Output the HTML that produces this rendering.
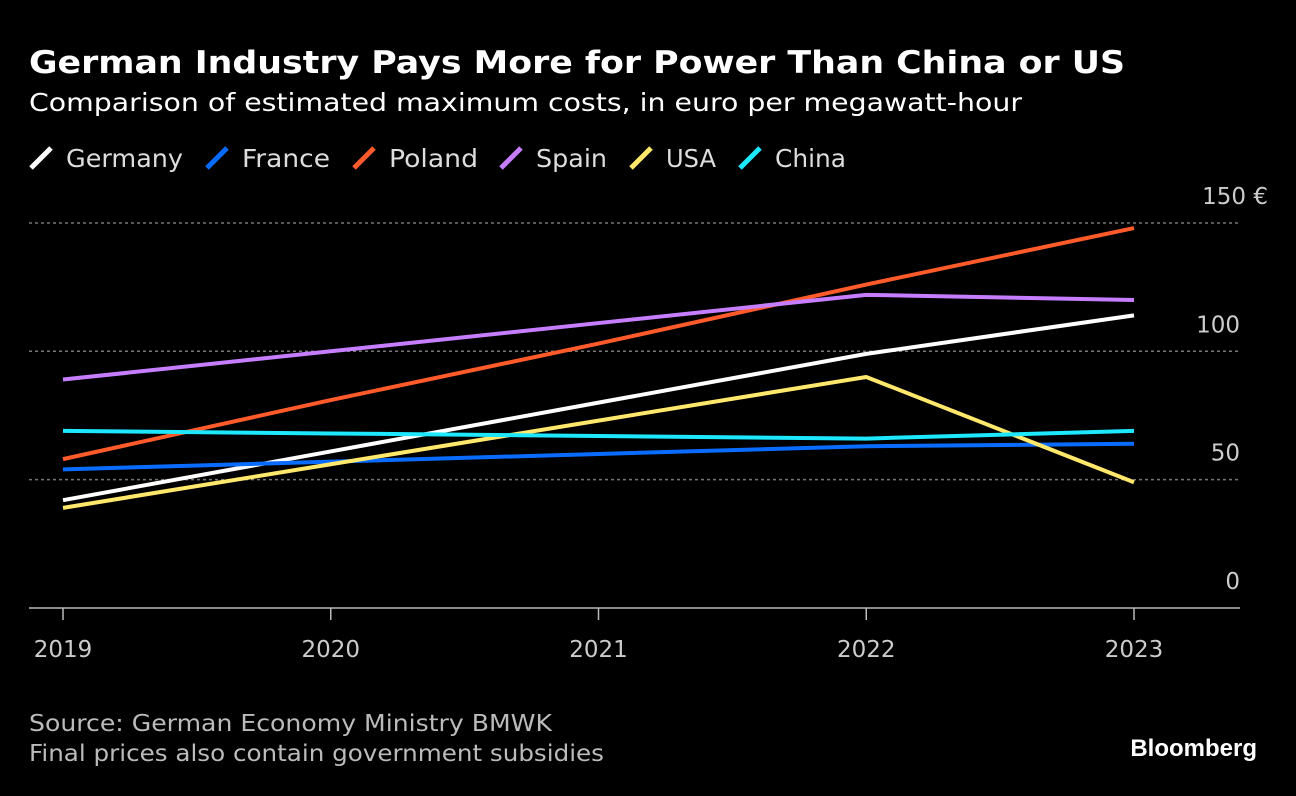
<!DOCTYPE html>
<html><head><meta charset="utf-8"><style>
body{margin:0;background:#000;width:1296px;height:792px;overflow:hidden;font-family:"DejaVu Sans","Liberation Sans",sans-serif;color:#fff}
</style></head><body>
<svg width="1296" height="792" xmlns="http://www.w3.org/2000/svg" font-family="DejaVu Sans, Liberation Sans, sans-serif">
<text x="29" y="73" font-size="31" font-weight="bold" fill="#fff" textLength="1096" lengthAdjust="spacingAndGlyphs">German Industry Pays More for Power Than China or US</text>
<text x="29" y="111" font-size="25" fill="#fff" textLength="993" lengthAdjust="spacingAndGlyphs">Comparison of estimated maximum costs, in euro per megawatt-hour</text>
<g id="legend"></g>
<g id="grid"></g>
<g id="series"></g>
<g id="xaxis"></g>
<text x="29" y="731" font-size="23" fill="#bbb" textLength="523" lengthAdjust="spacingAndGlyphs">Source: German Economy Ministry BMWK</text>
<text x="29" y="761" font-size="23" fill="#bbb" textLength="575" lengthAdjust="spacingAndGlyphs">Final prices also contain government subsidies</text>
<text x="1257" y="756" font-size="24" font-weight="bold" fill="#fff" text-anchor="end" font-family="Liberation Sans, sans-serif">Bloomberg</text>
</svg>
<script>
const years=[2019,2020,2021,2022,2023];
const seriesNames=["Germany","France","Poland","Spain","USA","China"];
const seriesColors=["#ffffff","#0a6cff","#ff5a2a","#c77dff","#ffe86b","#1ee8ff"];
const germany=[42,61,80,99,114];
const france=[54,57,60,63,64];
const poland=[58,81,103,126,148];
const spain=[89,100,111,122,120];
const usa=[39,56,73,90,49];
const china=[69,68,67,66,69];
const yTicks=[0,50,100,150];
const yTickLabels=["0","50","100","150 €"];
const allSeries=[germany,france,poland,spain,usa,china];
const NS="http://www.w3.org/2000/svg";
const xS=y=>63+(y-2019)*267.75;
const yS=v=>608-v*2.567;
function mk(tag,attrs,parent){const e=document.createElementNS(NS,tag);for(const k in attrs)e.setAttribute(k,attrs[k]);document.getElementById(parent).appendChild(e);return e;}
yTicks.forEach((t,i)=>{
 if(t>0){const l=mk("line",{x1:29,x2:1240,y1:yS(t),y2:yS(t),stroke:"#777","stroke-width":1.5,"stroke-dasharray":"3,3"},"grid");
 
 }
 const tx=mk("text",{x:t===150?1268:1240,y:yS(t)-19,"font-size":23,fill:"#ccc","text-anchor":"end"},"grid");
 tx.textContent=yTickLabels[i];
 
 
});
const ax=mk("line",{x1:29,x2:1240,y1:608,y2:608,stroke:"#bbb","stroke-width":1.5},"xaxis");


years.forEach(y=>{
 const tk=mk("line",{x1:xS(y),x2:xS(y),y1:608,y2:620,stroke:"#bbb","stroke-width":1.5},"xaxis");
 
 
 const t=mk("text",{x:xS(y),y:657,"font-size":23,fill:"#ccc","text-anchor":"middle"},"xaxis");
 t.textContent=y;
 
 
});
allSeries.forEach((s,i)=>{
 const p=mk("polyline",{points:s.map((v,j)=>xS(years[j])+","+yS(v)).join(" "),fill:"none",stroke:seriesColors[i],"stroke-width":4,"stroke-linejoin":"round"},"series");
 
 
});
const legX=[31,207,354,501,631,740];
const legW=[117,88,89,71,50,71];
seriesNames.forEach((n,i)=>{
 const l=mk("line",{x1:legX[i],y1:168,x2:legX[i]+20,y2:148,stroke:seriesColors[i],"stroke-width":5},"legend");
 
 
 const t=mk("text",{x:legX[i]+35,y:167,"font-size":25,fill:"#ddd",textLength:legW[i],lengthAdjust:"spacingAndGlyphs"},"legend");
 t.textContent=n;
 
 
});
</script>
</body></html>
